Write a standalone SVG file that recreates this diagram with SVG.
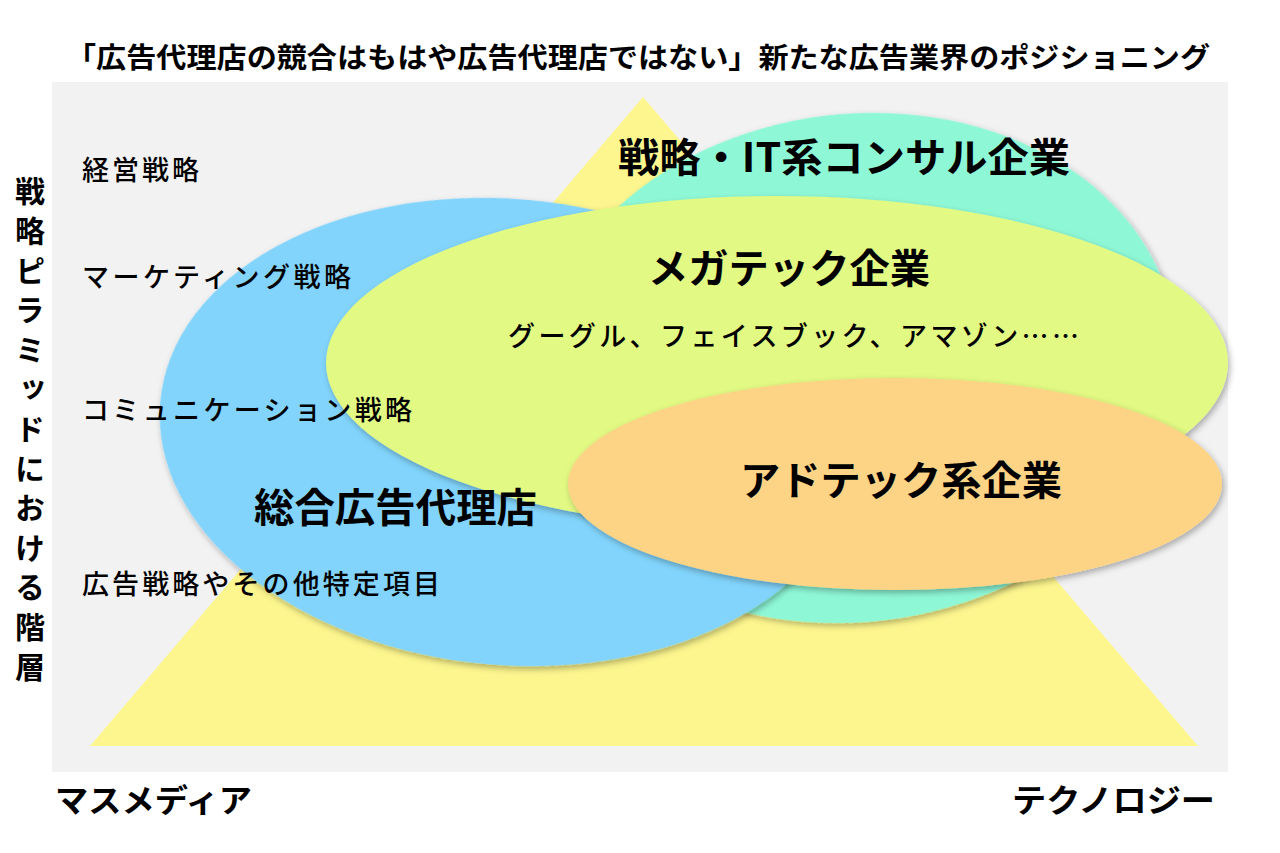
<svg xmlns="http://www.w3.org/2000/svg" width="1280" height="853" viewBox="0 0 1280 853">
<style>
text{font-family:"Noto Sans CJK JP","Noto Sans",sans-serif;fill:#000}
.t{font-weight:700;font-size:28px}
.lvl{font-weight:500;font-size:27px;letter-spacing:3px}
.big{font-weight:700;font-size:40px}
.ax{font-weight:700;font-size:32px}
.vert{font-weight:700;font-size:30px;letter-spacing:9.6px;writing-mode:vertical-rl}
.sh{filter:url(#ds)}
</style>
<defs>
<filter id="ds" x="-10%" y="-10%" width="120%" height="130%">
<feDropShadow dx="2" dy="3" stdDeviation="3" flood-color="#000" flood-opacity="0.3"/>
</filter>
</defs>
<rect x="0" y="0" width="1280" height="853" fill="#fff"/>
<text class="t" x="66" y="68" textLength="1144" lengthAdjust="spacingAndGlyphs">「広告代理店の競合はもはや広告代理店ではない」新たな広告業界のポジショニング</text>
<rect x="52" y="82" width="1176" height="690" fill="#f2f2f2"/>
<g id="pyramid"><polygon points="643,97 1198,746 90,746" fill="#fdf68e"/></g>
<g id="consul"><ellipse class="sh" cx="855" cy="368" rx="322" ry="254" transform="rotate(-7 855 368)" fill="#8ef8d6"/></g>
<g id="agency"><ellipse class="sh" cx="507" cy="432" rx="348" ry="233" transform="rotate(5 507 432)" fill="#82d4fc"/></g>
<g id="megatech"><ellipse class="sh" cx="777" cy="363" rx="451" ry="167" fill="#e2f983"/></g>
<g id="adtech"><ellipse class="sh" cx="895" cy="484" rx="327" ry="106" fill="#fdd385"/></g>
<g id="labels">
<text class="lvl" x="82" y="180" textLength="120" lengthAdjust="spacing">経営戦略</text>
<text class="lvl" x="82" y="287" textLength="272" lengthAdjust="spacing">マーケティング戦略</text>
<text class="lvl" x="82" y="420" textLength="333" lengthAdjust="spacing">コミュニケーション戦略</text>
<text class="lvl" x="82" y="594" textLength="361" lengthAdjust="spacing">広告戦略やその他特定項目</text>
<text class="big" x="618" y="172" textLength="452" lengthAdjust="spacingAndGlyphs">戦略・IT系コンサル企業</text>
<text class="big" x="648" y="283" textLength="282" lengthAdjust="spacingAndGlyphs">メガテック企業</text>
<text class="lvl" x="508" y="346" textLength="574" lengthAdjust="spacing">グーグル、フェイスブック、アマゾン……</text>
<text class="big" x="740" y="495" textLength="322" lengthAdjust="spacingAndGlyphs">アドテック系企業</text>
<text class="big" x="254" y="522" textLength="283" lengthAdjust="spacingAndGlyphs">総合広告代理店</text>
<text class="ax" x="55" y="812" textLength="197" lengthAdjust="spacingAndGlyphs">マスメディア</text>
<text class="ax" x="1012" y="812" textLength="203" lengthAdjust="spacingAndGlyphs">テクノロジー</text>
</g>
<g id="yaxis">
<text class="vert" x="30" y="176">戦略ピラミッドにおける階層</text>
</g>
</svg>
